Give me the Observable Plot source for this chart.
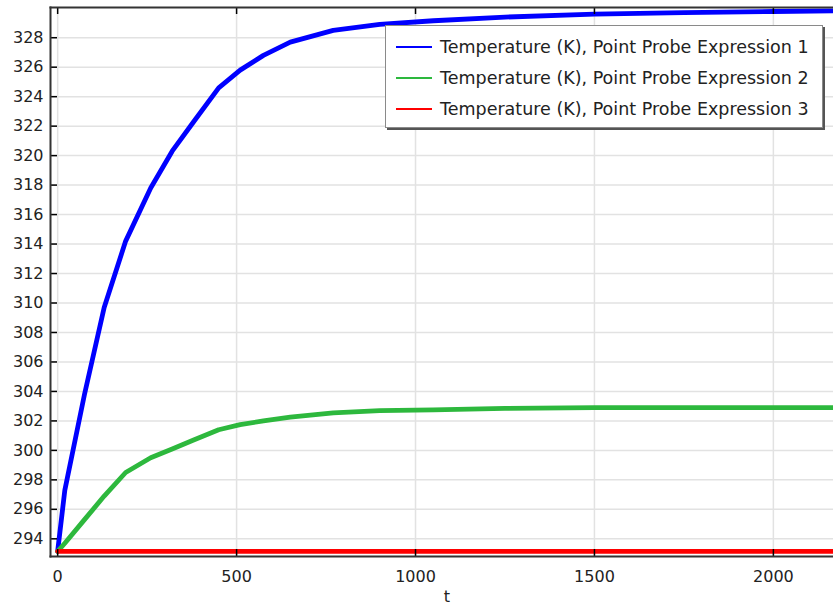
<!DOCTYPE html>
<html>
<head>
<meta charset="utf-8">
<script src="https://cdn.jsdelivr.net/npm/d3@7"></script>
<script src="https://cdn.jsdelivr.net/npm/@observablehq/plot@0.6"></script>
<style>
  html, body { margin: 0; padding: 0; background: #fff; }
  #wrap { position: relative; width: 833px; height: 604px; overflow: hidden; }
  #legend {
    position: absolute; left: 385px; top: 25px; width: 436px; height: 101px;
    background: #fff; border: 1px solid #8a8a8a;
    box-shadow: 2px 2px 0 #555;
    font-family: "DejaVu Sans", sans-serif; font-size: 17.5px; color: #222;
  }
  .item { position: absolute; left: 0; height: 20px; display: flex; align-items: center; white-space: nowrap; }
  .swatch { display: inline-block; width: 36px; height: 2px; margin-left: 10px; margin-right: 8px; }
</style>
</head>
<body>
<div id="wrap"><div id="chart"></div><div id="legend"></div></div>
<script>
// Data
const seriesNames = [
  "Temperature (K), Point Probe Expression 1",
  "Temperature (K), Point Probe Expression 2",
  "Temperature (K), Point Probe Expression 3"
];
const seriesColors = ["#0000ff", "#2db83d", "#ff0000"];
const times = [0, 20, 75, 130, 190, 260, 320, 380, 450, 510, 575, 650, 770, 900, 1050, 1250, 1500, 1750, 2000, 2170];
const probe1 = [293.15, 297.3, 303.8, 309.7, 314.2, 317.8, 320.3, 322.3, 324.6, 325.8, 326.8, 327.7, 328.5, 328.9, 329.15, 329.4, 329.6, 329.7, 329.78, 329.82];
const probe2 = [293.15, 293.7, 295.3, 296.9, 298.5, 299.5, 300.1, 300.7, 301.4, 301.75, 302.0, 302.25, 302.55, 302.7, 302.75, 302.85, 302.9, 302.9, 302.9, 302.9];
const probe3 = [293.15, 293.15, 293.15, 293.15, 293.15, 293.15, 293.15, 293.15, 293.15, 293.15, 293.15, 293.15, 293.15, 293.15, 293.15, 293.15, 293.15, 293.15, 293.15, 293.15];
const xTicks = [0, 500, 1000, 1500, 2000];
const yTicks = [294, 296, 298, 300, 302, 304, 306, 308, 310, 312, 314, 316, 318, 320, 322, 324, 326, 328];
const xLabel = "t";

const allSeries = [probe1, probe2, probe3];
const data = allSeries.flatMap((vals, si) => times.map((t, i) => ({t, T: vals[i], s: seriesNames[si]})));

const W = 833, H = 604, mL = 50, mR = 0, mT = 7, mB = 48;
const innerW = W - mL - mR, innerH = H - mT - mB;
const axisColor = "#333";

const chart = Plot.plot({
  width: W, height: H,
  marginLeft: mL, marginRight: mR, marginTop: mT, marginBottom: mB,
  style: {fontFamily: "DejaVu Sans, sans-serif", fontSize: "16px", color: "#222", background: "#fff", overflow: "hidden"},
  x: {domain: [-20, 2168]},
  y: {domain: [292.8, 330.05]},
  color: {domain: seriesNames, range: seriesColors},
  marks: [
    Plot.gridX(xTicks, {stroke: "#e2e2e2", strokeOpacity: 1, strokeWidth: 1.5}),
    Plot.gridY(yTicks, {stroke: "#e2e2e2", strokeOpacity: 1, strokeWidth: 1.5}),
    Plot.axisX(xTicks, {tickSize: 0, tickPadding: 14, label: null, fontSize: 16, tickFormat: d => String(d)}),
    Plot.axisY(yTicks, {tickSize: 0, tickPadding: 7, label: null, fontSize: 16, tickFormat: d => String(d)}),
    Plot.text([xLabel], {frameAnchor: "bottom", dy: 45, dx: 5, text: d => d, fontSize: 16}),
    Plot.line(data, {x: "t", y: "T", stroke: "s", z: "s", strokeWidth: 4.8, clip: true}),
    // inward tick marks
    Plot.ruleX(xTicks, {x: d => d, stroke: "#000", strokeWidth: 1.5, insetTop: innerH - 7}),
    Plot.ruleX(xTicks, {x: d => d, stroke: "#000", strokeWidth: 1.5, insetBottom: innerH - 7}),
    Plot.ruleY(yTicks, {y: d => d, stroke: "#000", strokeWidth: 1.5, insetRight: innerW - 7}),
    // frame lines (left, top, bottom)
    Plot.frame({anchor: "left", stroke: axisColor, strokeWidth: 2}),
    Plot.frame({anchor: "top", stroke: axisColor, strokeWidth: 2}),
    Plot.frame({anchor: "bottom", stroke: axisColor, strokeWidth: 2})
  ]
});
document.getElementById("chart").appendChild(chart);

const legend = document.getElementById("legend");
const tops = [11, 42, 73];
seriesNames.forEach((name, i) => {
  const item = document.createElement("div");
  item.className = "item";
  item.style.top = tops[i] + "px";
  const sw = document.createElement("span");
  sw.className = "swatch";
  sw.style.background = seriesColors[i];
  const tx = document.createElement("span");
  tx.textContent = name;
  item.appendChild(sw); item.appendChild(tx);
  legend.appendChild(item);
});
</script>
</body>
</html>
